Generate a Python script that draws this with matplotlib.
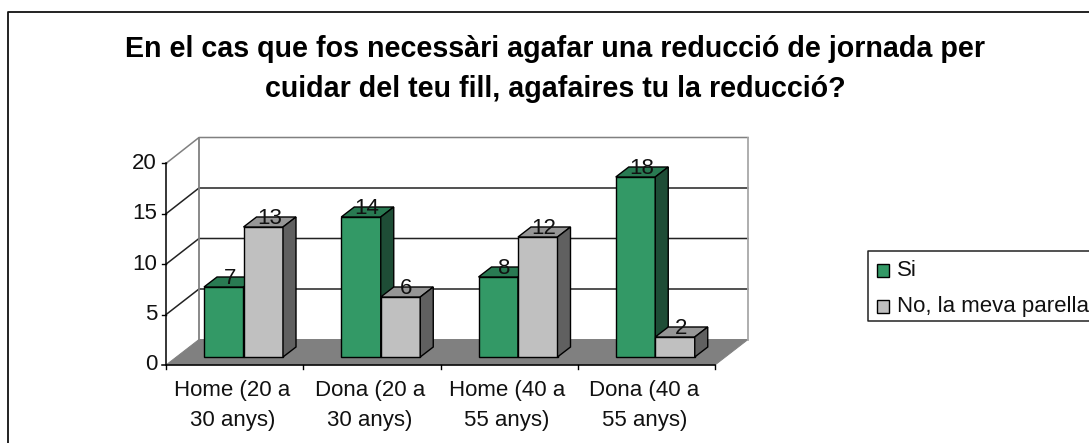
import matplotlib
matplotlib.use("Agg")
import matplotlib.pyplot as plt
from matplotlib.patches import Polygon, Rectangle
from matplotlib.transforms import Affine2D

plt.rcParams["font.family"] = ["Liberation Sans", "DejaVu Sans"]

categories = ["Home (20 a\n30 anys)", "Dona (20 a\n30 anys)", "Home (40 a\n55 anys)", "Dona (40 a\n55 anys)"]
si = [7, 14, 8, 18]
no_parella = [13, 6, 12, 2]
series_names = ["Si", "No, la meva parella"]
yticks = [0, 5, 10, 15, 20]
title = "En el cas que fos necessàri agafar una reducció de jornada per\ncuidar del teu fill, agafaires tu la reducció?"

W, H = 1089, 443
fig = plt.figure(figsize=(W / 100, H / 100), dpi=100)
ax = fig.add_axes([0, 0, 1, 1])
ax.axis("off")

# one category = 137.25 px, one unit = 10 px
sx = 137.25
x0 = 243.5
y0 = 357
ax.set_xlim(-x0 / sx, (W - x0) / sx)
ax.set_ylim(-(H - y0) / 10, y0 / 10)

# frame parts are placed in pixels from the top left
px = Affine2D().scale(1, -1).translate(0, H)

GREY = "#808080"
DARK = "#222222"

# outer border, only top and left show
ax.plot([8, 8, W], [H, 12, 12], color="#111111", lw=1.3, transform=px, clip_on=False)

# walls and floor
fx, fy = 166, 365      # front corner of the axis
bx, by = 199, 339.5    # back corner
ax_w = 549
step_back = 10.1
ax.add_patch(Polygon([(fx, fy), (fx + ax_w, fy), (bx + ax_w, by), (bx, by)], closed=True,
                     fc=GREY, ec=GREY, lw=0.7, transform=px, zorder=1))
for v in yticks[1:]:
    yb = by - v * step_back
    yf = fy - v * 10.08
    c = GREY if v == yticks[-1] else DARK
    ax.plot([fx, bx, bx + ax_w], [yf, yb, yb], color=c, lw=1.1, transform=px, zorder=1)
    ax.plot([fx - 4, fx], [yf, yf], color="k", lw=1, transform=px, zorder=2)
ax.plot([bx, bx], [by, by - 20 * step_back], color=GREY, lw=1.3, transform=px, zorder=1)
ax.plot([bx + ax_w, bx + ax_w], [by, by - 20 * step_back], color="#A8A8A8", lw=1.3, transform=px, zorder=1)

# axis lines and tick labels
ax.plot([fx, fx], [fy, fy - 20 * 10.08], color="k", lw=1.1, transform=px, zorder=2)
ax.plot([fx - 4, fx + ax_w], [fy, fy], color="k", lw=1.1, transform=px, zorder=2)
for v in yticks:
    ax.text(fx - 9, fy - v * 10.08, str(v), ha="right", va="center", fontsize=16,
            color="#111111", transform=px)
for i, lab in enumerate(categories):
    xt = fx + sx * i
    ax.plot([xt, xt], [fy, fy + 4], color="k", lw=1, transform=px, zorder=2)
    ax.text(xt + sx / 2 - 2, fy + 40.5, lab, ha="center", va="center", fontsize=16,
            color="#111111", linespacing=1.55, transform=px)
ax.plot([fx + ax_w] * 2, [fy, fy + 4], color="k", lw=1, transform=px, zorder=2)


def bar3d(x, val, w, face, top, side):
    # depth is 13 px across and 10 px up
    dx = 13 / sx
    dy = 1.0
    ax.bar(x, val, width=w, align="edge", color=face, edgecolor="k", lw=1, zorder=3)
    ax.add_patch(Polygon([(x, val), (x + w, val), (x + w + dx, val + dy), (x + dx, val + dy)],
                         closed=True, fc=top, ec="k", lw=1, zorder=3))
    ax.add_patch(Polygon([(x + w, 0), (x + w + dx, dy), (x + w + dx, val + dy), (x + w, val)],
                         closed=True, fc=side, ec="k", lw=1, zorder=3))


bw = 39.5 / sx
for i in range(len(categories)):
    bar3d(i - bw, si[i], bw, "#339966", "#297A52", "#1E4D36")
    bar3d(i, no_parella[i], bw, "#C0C0C0", "#969696", "#606060")
for i in range(len(categories)):
    ax.text(i - bw / 2 + 6 / sx, si[i] + 0.9, str(si[i]), ha="center", va="center",
            fontsize=16, color="#111111", zorder=5)
    ax.text(i + bw / 2 + 6 / sx, no_parella[i] + 0.9, str(no_parella[i]), ha="center", va="center",
            fontsize=16, color="#111111", zorder=5)

# legend, runs off the right edge
ax.plot([W + 2, 868, 868, W + 2], [251, 251, 321, 321], color="#222222", lw=1.1, transform=px)
for name, yy, col in zip(series_names, [270.5, 306.5], ["#339966", "#C0C0C0"]):
    ax.add_patch(Rectangle((877, yy - 6.5), 12, 13, fc=col, ec="k", lw=1, transform=px))
    ax.text(897, yy, name, ha="left", va="center", fontsize=16, color="#111111", transform=px)

ax.text(555, 69, title, ha="center", va="center", fontsize=20.6, fontweight="bold",
        color="#000000", linespacing=1.56, transform=px)

fig.savefig("out.png", dpi=100, facecolor="white")
